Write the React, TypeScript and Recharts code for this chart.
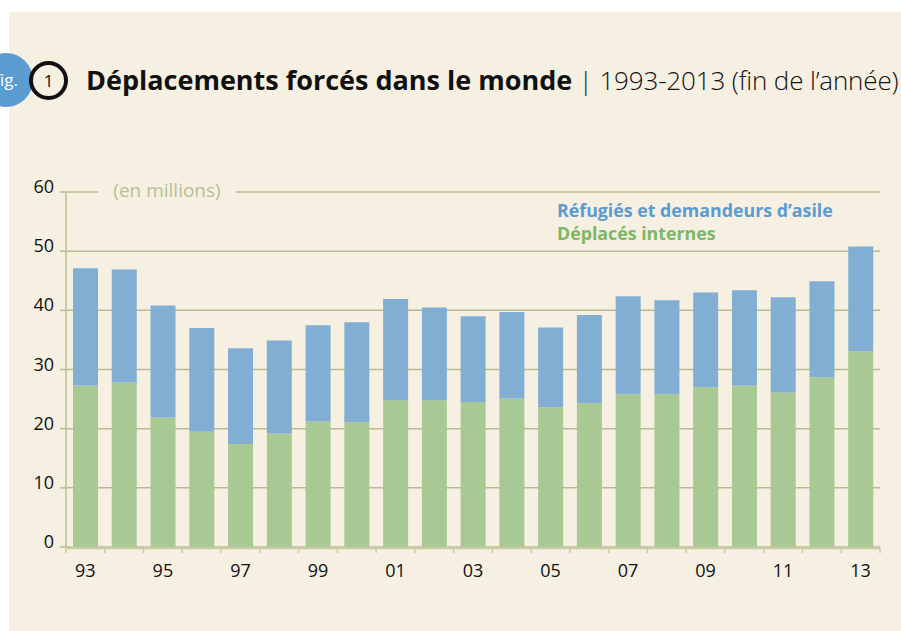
import { BarChart, Bar, XAxis, YAxis, CartesianGrid } from 'recharts';

const years = ['93', '94', '95', '96', '97', '98', '99', '00', '01', '02', '03', '04', '05', '06', '07', '08', '09', '10', '11', '12', '13'];
const internes = [27.3, 27.8, 21.9, 19.5, 17.4, 19.2, 21.2, 21.1, 24.8, 24.8, 24.5, 25.1, 23.6, 24.3, 25.8, 25.8, 27.0, 27.3, 26.1, 28.7, 33.1];
const refugies = [19.8, 19.1, 18.9, 17.5, 16.2, 15.7, 16.3, 16.9, 17.1, 15.7, 14.5, 14.6, 13.5, 14.9, 16.6, 15.9, 16.0, 16.1, 16.1, 16.2, 17.7];
const yTicks = [0, 10, 20, 30, 40, 50, 60];
const edgeTicks = years.map((_, i) => i).concat(years.length);

const series = [
  { key: 'refugies', label: 'Réfugiés et demandeurs d’asile', bar: '#83aed3', text: '#5b9bd0' },
  { key: 'internes', label: 'Déplacés internes', bar: '#a9c994', text: '#7cb767' },
];

const data = years.map((year, i) => ({ year, edge: i, internes: internes[i], refugies: refugies[i] }));

const FONT = '"Open Sans", sans-serif';
const CREAM = '#f5f0e1';
const GRID = '#b7bb90';
const AXIS = '#c9caa6';

function YearTick({ x, y, payload, index }: any) {
  if (index % 2 !== 0) return null;
  return (
    <text x={x} y={y + 22} textAnchor="middle" fontFamily={FONT} fontSize={18} fill="#111">
      {payload.value}
    </text>
  );
}

function ValueTick({ x, y, payload }: any) {
  return (
    <text x={x} y={y + 1} textAnchor="end" fontFamily={FONT} fontSize={18} fill="#111">
      {payload.value}
    </text>
  );
}

export default function App() {
  return (
    <div style={{ position: 'fixed', left: 0, top: 0, width: 901, height: 631, background: '#fff', overflow: 'hidden', fontFamily: FONT }}>
      <div style={{ position: 'absolute', left: 9, top: 12, right: 0, bottom: 0, background: CREAM }} />

      <div style={{ position: 'absolute', left: -21, top: 53, width: 54, height: 54, borderRadius: '50%', background: '#5b9dd0', color: '#fff', fontSize: 17, lineHeight: '54px', textAlign: 'center' }}>
        fig.
      </div>
      <div style={{ position: 'absolute', left: 29, top: 61, width: 39, height: 39, boxSizing: 'border-box', borderRadius: '50%', border: '4px solid #111', background: CREAM, color: '#111', fontSize: 17, lineHeight: '31px', textAlign: 'center' }}>
        1
      </div>
      <div style={{ position: 'absolute', left: 86, top: 66, fontSize: 27, lineHeight: 1, whiteSpace: 'nowrap', color: '#111' }}>
        <span style={{ fontWeight: 700 }}>Déplacements forcés dans le monde</span>
        <span style={{ fontWeight: 300, fontSize: 26, letterSpacing: -0.15 }}> | 1993-2013 (fin de l’année)</span>
      </div>

      <BarChart
        width={901}
        height={631}
        data={data}
        margin={{ top: 192, right: 21, bottom: 82, left: 10 }}
        style={{ position: 'absolute', left: 0, top: 0 }}
      >
        <CartesianGrid vertical={false} stroke={GRID} strokeWidth={1.5} />
        <YAxis
          domain={[0, 60]}
          ticks={yTicks}
          width={56}
          tickSize={6}
          tickMargin={6}
          tickLine={{ stroke: GRID, strokeWidth: 1.5 }}
          axisLine={{ stroke: AXIS, strokeWidth: 2 }}
          tick={<ValueTick />}
        />
        <XAxis dataKey="year" height={1} axisLine={false} tickLine={false} interval={0} tick={<YearTick />} />
        <XAxis
          xAxisId="edges"
          dataKey="edge"
          type="number"
          domain={[0, years.length]}
          allowDataOverflow
          ticks={edgeTicks}
          interval={0}
          height={1}
          tickSize={5}
          tickFormatter={() => ''}
          tickLine={{ stroke: AXIS, strokeWidth: 1.5 }}
          axisLine={{ stroke: AXIS, strokeWidth: 2.5 }}
        />
        {series
          .slice()
          .reverse()
          .map((s) => (
            <Bar key={s.key} dataKey={s.key} stackId="a" fill={s.bar} barSize={25} isAnimationActive={false} />
          ))}
      </BarChart>

      <div style={{ position: 'absolute', left: 98, top: 177, width: 138, textAlign: 'center', background: CREAM, color: '#b5bf93', fontSize: 19, lineHeight: '26px' }}>
        (en millions)
      </div>

      <div style={{ position: 'absolute', left: 557, top: 199, fontSize: 17.8, fontWeight: 700, lineHeight: '23px' }}>
        {series.map((s) => (
          <div key={s.key} style={{ color: s.text }}>
            {s.label}
          </div>
        ))}
      </div>
    </div>
  );
}
